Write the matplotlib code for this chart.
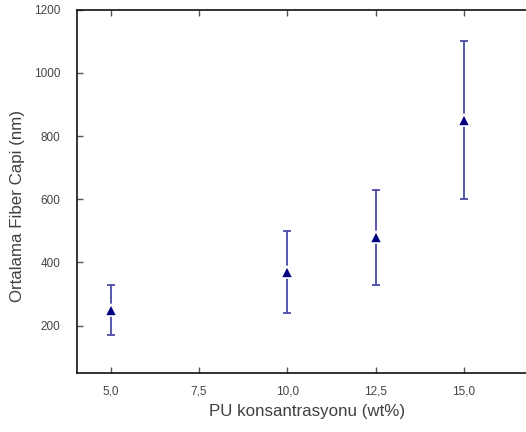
import matplotlib
matplotlib.use('Agg')
import matplotlib.pyplot as plt
from matplotlib.ticker import FuncFormatter

concentration = [5.0, 10.0, 12.5, 15.0]
fiber_diameter = [250, 370, 480, 850]
err_low = [80, 130, 150, 250]
err_high = [80, 130, 150, 250]

x_ticks = [5.0, 7.5, 10.0, 12.5, 15.0]
y_ticks = [200, 400, 600, 800, 1000, 1200]

plt.rcParams['font.family'] = ['Liberation Sans', 'DejaVu Sans']

fig = plt.figure(figsize=(5.26, 4.32), dpi=100)
ax = fig.add_axes([77 / 526, 59 / 432, 457.5 / 526, 363.3 / 432])

ax.errorbar(concentration, fiber_diameter, yerr=[err_low, err_high],
            fmt='none', ecolor='#4a4aa8', elinewidth=1.3, capsize=2.6,
            capthick=1.3)
ax.plot(concentration, fiber_diameter, linestyle='None', marker='^',
        markersize=9, color='#000080', markeredgecolor='white',
        markeredgewidth=1.2)

ax.set_xlim(4.05, 17)
ax.set_ylim(50, 1200)
ax.set_xticks(x_ticks)
ax.set_yticks(y_ticks)
ax.xaxis.set_major_formatter(FuncFormatter(lambda v, p: f'{v:.1f}'.replace('.', ',')))
ax.yaxis.set_major_formatter(FuncFormatter(lambda v, p: f'{v:.0f}'))

ax.tick_params(axis='x', direction='in', top=True, length=4, width=1,
               color='#555555', labelsize=8.5, labelcolor='#444444', pad=9)
ax.tick_params(axis='y', direction='in', length=4, width=1,
               color='#555555', labelsize=8.5, labelcolor='#444444', pad=12)

for side in ['left', 'bottom', 'top']:
    ax.spines[side].set_linewidth(1.2)
    ax.spines[side].set_color('#111111')
ax.spines['right'].set_visible(False)

ax.set_xlabel('PU konsantrasyonu (wt%)', fontsize=12.2, color='#404040')
ax.set_ylabel('Ortalama Fiber Capi (nm)', fontsize=12.2, color='#404040')
ax.xaxis.set_label_coords(0.503, -0.085)
ax.yaxis.set_label_coords(-0.114, 0.461)

fig.savefig('out.png', dpi=100)
